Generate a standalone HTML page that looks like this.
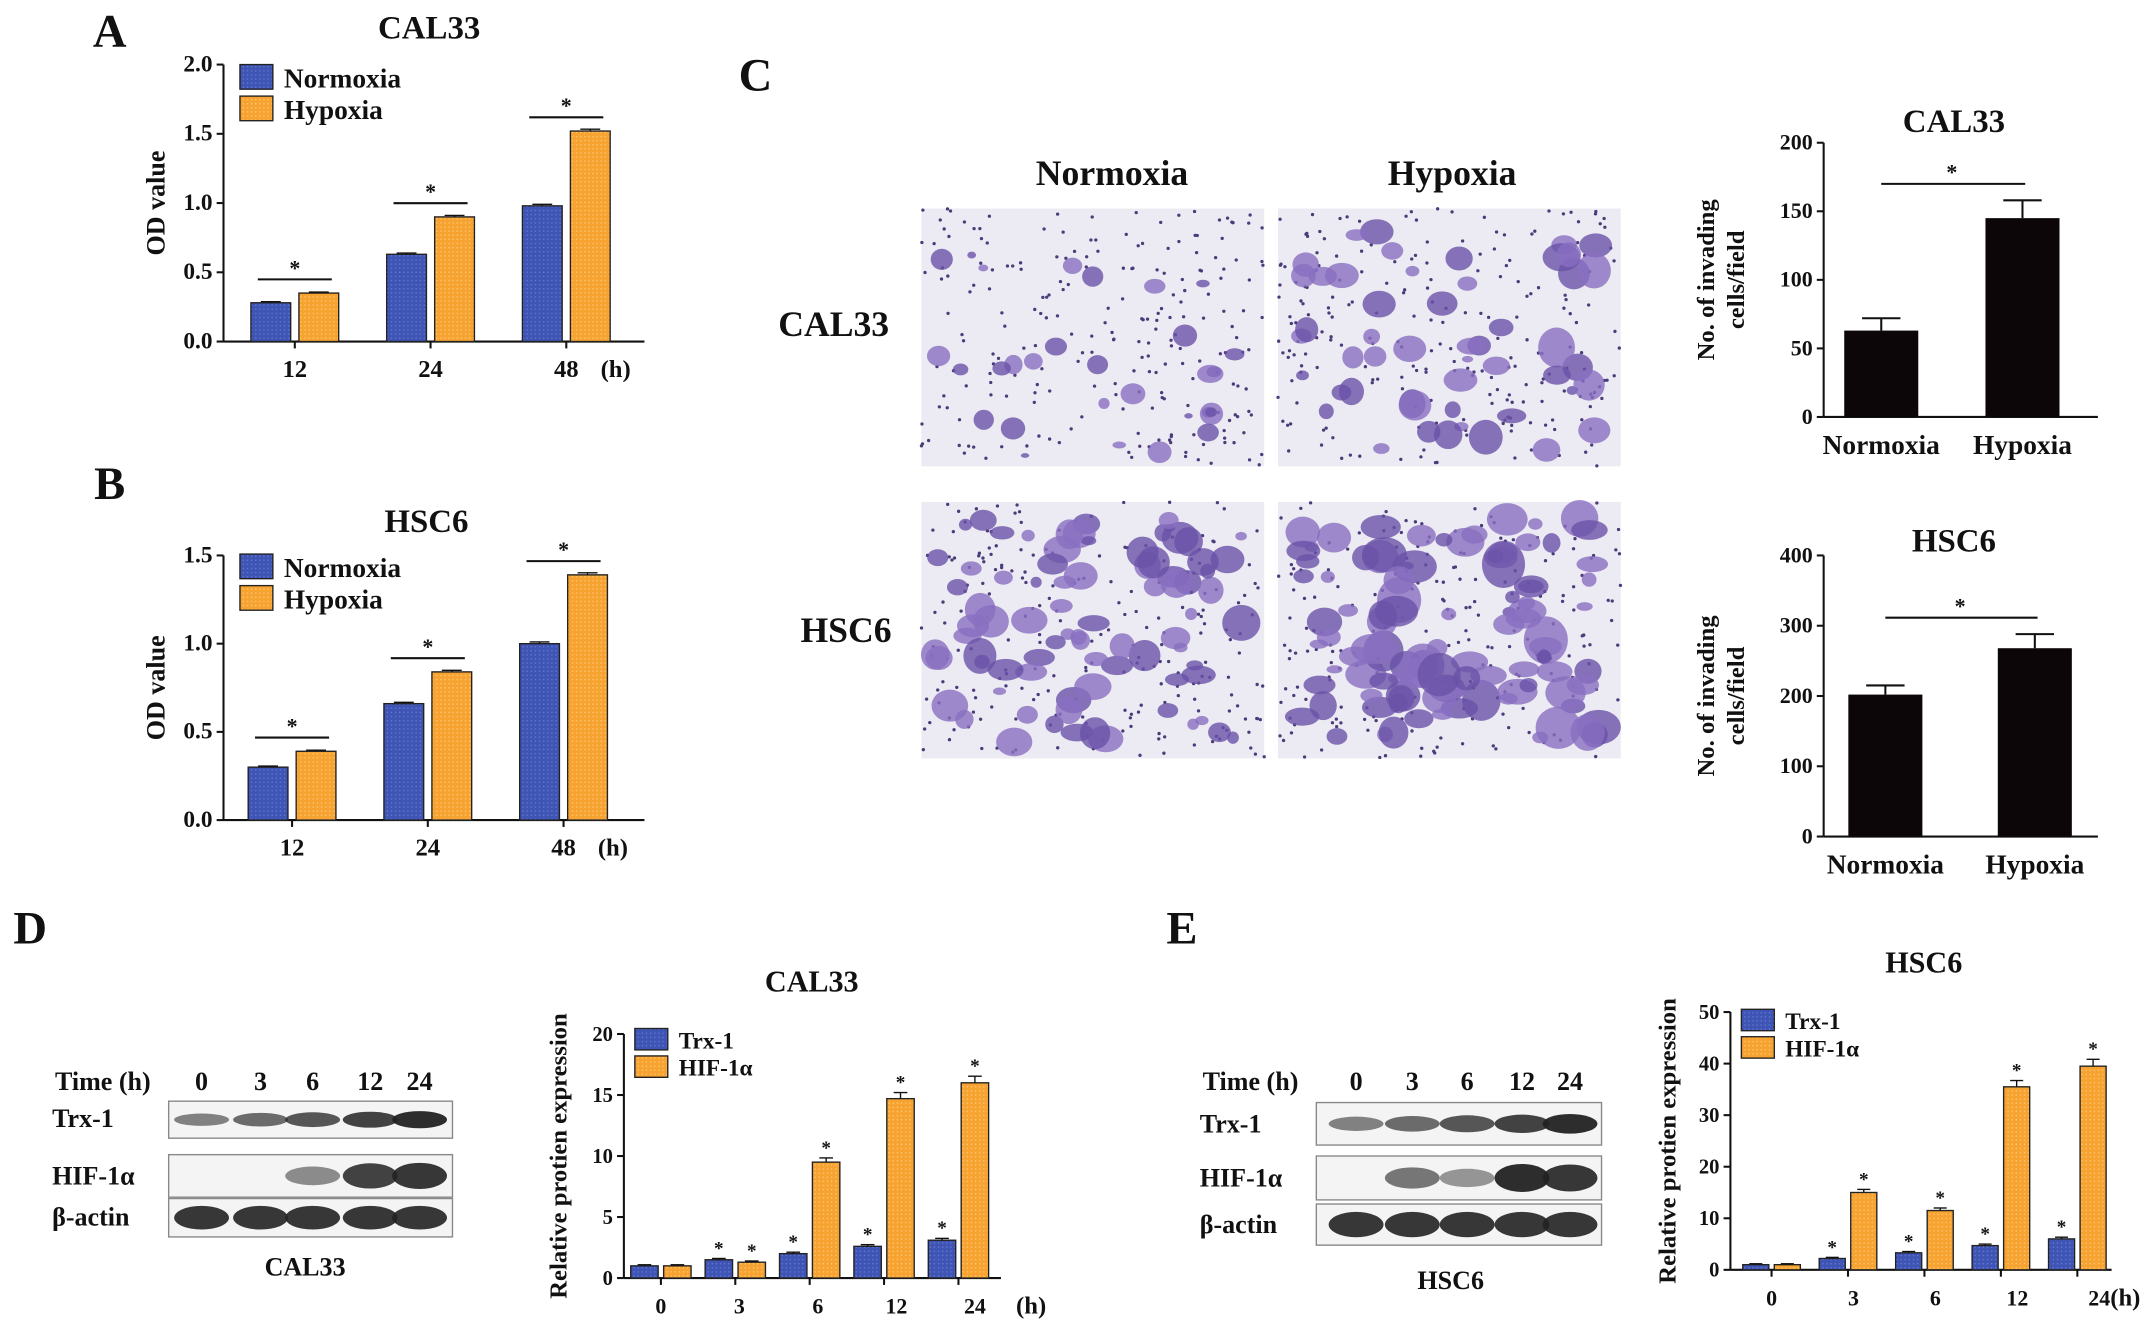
<!DOCTYPE html>
<html><head><meta charset="utf-8"><style>
html,body{margin:0;padding:0;background:#fff;}
svg{display:block;font-family:"Liberation Serif",serif;font-weight:bold;}
</style></head><body>
<svg id="fig" width="2150" height="1344" viewBox="0 0 1568 980" xmlns="http://www.w3.org/2000/svg">
<defs>
<pattern id="pb" width="3" height="3" patternUnits="userSpaceOnUse"><rect width="3" height="3" fill="#3f55b5"/><rect width="1" height="1" fill="#6475cc"/></pattern>
<pattern id="po" width="3" height="3" patternUnits="userSpaceOnUse"><rect width="3" height="3" fill="#f7a331"/><rect width="1" height="1" fill="#ffc46e"/></pattern>
</defs>
<g id="root"></g>
</svg>
<script>
// ---- data ----
const timeCatsAB = ["12","24","48"];
const aNormoxia = [0.28,0.63,0.98];
const aHypoxia = [0.35,0.90,1.52];
const aTicks = [0,0.5,1.0,1.5,2.0];
const bNormoxia = [0.30,0.66,1.00];
const bHypoxia = [0.39,0.84,1.39];
const bTicks = [0,0.5,1.0,1.5];
const invCats = ["Normoxia","Hypoxia"];
const invCal33 = [63,145];
const invCal33Err = [9,13];
const invCal33Ticks = [0,50,100,150,200];
const invHsc6 = [202,268];
const invHsc6Err = [13,20];
const invHsc6Ticks = [0,100,200,300,400];
const timeCatsDE = ["0","3","6","12","24"];
const dTrx = [1,1.5,2,2.6,3.1];
const dHif = [1,1.3,9.5,14.7,16];
const dTicks = [0,5,10,15,20];
const eTrx = [1,2.2,3.3,4.7,6];
const eHif = [1,15,11.5,35.5,39.5];
const eTicks = [0,10,20,30,40,50];

const NS="http://www.w3.org/2000/svg";
const root=document.getElementById('root');
function el(tag,attrs,parent,text){const e=document.createElementNS(NS,tag);for(const k in attrs)e.setAttribute(k,attrs[k]);if(text!==undefined)e.textContent=text;(parent||root).appendChild(e);return e;}
function txt(x,y,s,size,anchor,parent,name){const t=el('text',{x:x,y:y,'font-size':size,'text-anchor':anchor||'middle',fill:'#111'},parent,s);

return t;}

function grouped(o){
 const g=el('g',{});
 
 
 const ticks=o.ticks,max=ticks[ticks.length-1];
 const y=v=>o.y0-(v/max)*(o.y0-o.y1);
 const ls=o.labelShift||0;
 el('line',{x1:o.ax,y1:o.y0,x2:o.ax,y2:o.y1,stroke:'#111','stroke-width':1.5},g);
 el('line',{x1:o.ax,y1:o.y0,x2:o.xEnd,y2:o.y0,stroke:'#111','stroke-width':1.5},g);
 ticks.forEach(t=>{el('line',{x1:o.ax-5,y1:y(t),x2:o.ax,y2:y(t),stroke:'#111','stroke-width':1.5},g);
  txt(o.ax-8,y(t)+5,o.fmt?o.fmt(t):String(t),o.tfs||15,'end',g,'y-tick-label');});
 o.cats.forEach((c,i)=>{
  const cx=o.cx[0]+i*(o.cx[1]-o.cx[0])/(o.cats.length-1);
  el('line',{x1:cx,y1:o.y0,x2:cx,y2:o.y0+5,stroke:'#111','stroke-width':1.5},g);
  txt(cx+i*ls,o.y0+26,c,o.cfs||18,'middle',g,'x-tick-label');
  [[o.s1,'url(#pb)'],[o.s2,'url(#po)']].forEach(([s,f],k)=>{
   const x=k===0?cx-o.bw-o.gap/2:cx+o.gap/2;
   const r=el('rect',{x:x,y:y(s[i]),width:o.bw,height:o.y0-y(s[i]),fill:f,stroke:'#222','stroke-width':1},g);
   
   
   const e=s[i]*o.errf+0.003*max;
   el('line',{x1:x+o.bw/2,y1:y(s[i]+e),x2:x+o.bw/2,y2:y(s[i]),stroke:'#111'},g);
   el('line',{x1:x+o.bw*0.25,y1:y(s[i]+e),x2:x+o.bw*0.75,y2:y(s[i]+e),stroke:'#111'},g);
   if(o.starEach&&i>0) txt(x+o.bw/2,y(s[i]+e)-3,'*',14,'middle',g,'significance-star');
  });
  if(o.sig){const top=Math.max(o.s1[i],o.s2[i]);const ly=y(top)-10;
   el('line',{x1:cx-o.bw+2,y1:ly,x2:cx+o.bw-2,y2:ly,stroke:'#111','stroke-width':1.5},g);
   txt(cx,ly-3,'*',16,'middle',g,'significance-star');}
 });
 if(o.unit) txt(o.unitX,o.y0+26,'(h)',18,'middle',g,'x-unit');
 const L=o.legend;
 [[o.l1,'url(#pb)'],[o.l2,'url(#po)']].forEach(([s,f],k)=>{
  el('rect',{x:L[0],y:L[1]+k*L[2],width:L[3],height:L[2]*0.78,fill:f,stroke:'#222'},g);
  txt(L[0]+L[3]+8,L[1]+k*L[2]+L[2]*0.72,s,L[4],'start',g,'legend-entry');});
 const yt=txt(0,0,o.ylab,o.yfs||19,'middle',g,'y-axis-title');
 yt.setAttribute('transform',`translate(${o.ylx},${(o.y0+o.y1)/2}) rotate(-90)`);
 txt(o.titleX,o.titleY,o.title,o.titfs||24,'middle',g,'chart-title');
}
const f1=t=>t.toFixed(1);
grouped({name:'chart-a',cats:timeCatsAB,s1:aNormoxia,s2:aHypoxia,ticks:aTicks,fmt:f1,ax:163,y0:249,y1:47,xEnd:470,cx:[215,413],bw:29,gap:6,errf:0.005,sig:true,unit:true,unitX:449,legend:[175,47,23,24,20],l1:'Normoxia',l2:'Hypoxia',ylab:'OD value',ylx:120,title:'CAL33',titleX:313,titleY:28,tfs:17});
grouped({name:'chart-b',cats:timeCatsAB,s1:bNormoxia,s2:bHypoxia,ticks:bTicks,fmt:f1,ax:163,y0:598,y1:405,xEnd:470,cx:[213,411],bw:29,gap:6,errf:0.005,sig:true,unit:true,unitX:447,legend:[175,404,23,24,20],l1:'Normoxia',l2:'Hypoxia',ylab:'OD value',ylx:120,title:'HSC6',titleX:311,titleY:388,tfs:17});
grouped({name:'chart-d',cats:timeCatsDE,s1:dTrx,s2:dHif,ticks:dTicks,ax:455,y0:932,y1:754,xEnd:730,cx:[482,699],labelShift:3,bw:20,gap:4,errf:0.03,starEach:true,unit:true,unitX:752,legend:[463,750,20,24,17],l1:'Trx-1',l2:'HIF-1α',ylab:'Relative protien expression',ylx:413,yfs:18,title:'CAL33',titleX:592,titleY:723,titfs:22,cfs:16});
grouped({name:'chart-e',cats:timeCatsDE,s1:eTrx,s2:eHif,ticks:eTicks,ax:1262,y0:926,y1:738,xEnd:1540,cx:[1292,1515],labelShift:4,bw:19,gap:4,errf:0.03,starEach:true,unit:true,unitX:1550,legend:[1270,736,20,24,17],l1:'Trx-1',l2:'HIF-1α',ylab:'Relative protien expression',ylx:1222,yfs:18,title:'HSC6',titleX:1403,titleY:709,titfs:22,cfs:16});

function single(o){
 const g=el('g',{});
 
 
 const max=o.ticks[o.ticks.length-1];const y=v=>o.y0-(v/max)*(o.y0-o.y1);
 el('line',{x1:o.ax,y1:o.y0,x2:o.ax,y2:o.y1,stroke:'#111','stroke-width':1.5},g);
 el('line',{x1:o.ax,y1:o.y0,x2:1530,y2:o.y0,stroke:'#111','stroke-width':1.5},g);
 o.ticks.forEach(t=>{el('line',{x1:o.ax-5,y1:y(t),x2:o.ax,y2:y(t),stroke:'#111','stroke-width':1.5},g);
  txt(o.ax-8,y(t)+5,String(t),16,'end',g,'y-tick-label');});
 o.cats.forEach((c,i)=>{const cx=o.cx[i];
  const r=el('rect',{x:cx-27,y:y(o.vals[i]),width:54,height:o.y0-y(o.vals[i]),fill:'#0d0608'},g);
  
  
  const e=o.err[i];
  el('line',{x1:cx,y1:y(o.vals[i]+e),x2:cx,y2:y(o.vals[i]),stroke:'#111','stroke-width':1.5},g);
  el('line',{x1:cx-14,y1:y(o.vals[i]+e),x2:cx+14,y2:y(o.vals[i]+e),stroke:'#111','stroke-width':1.5},g);
  txt(cx,o.y0+27,c,20,'middle',g,'x-tick-label');});
 const ly=y(Math.max(o.vals[0]+o.err[0],o.vals[1]+o.err[1]))-12;
 el('line',{x1:o.cx[0],y1:ly,x2:o.cx[1]+2,y2:ly,stroke:'#111','stroke-width':1.5},g);
 txt((o.cx[0]+o.cx[1])/2,ly-3,'*',16,'middle',g,'significance-star');
 const t1=txt(0,0,'No. of invading',18,'middle',g,'y-axis-title');
 t1.setAttribute('transform',`translate(1250,${(o.y0+o.y1)/2}) rotate(-90)`);
 const t2=txt(0,0,'cells/field',18,'middle',g,'y-axis-title');
 t2.setAttribute('transform',`translate(1272,${(o.y0+o.y1)/2}) rotate(-90)`);
 txt(1425,o.titleY,o.title,24,'middle',g,'chart-title');
}
single({name:'invasion-cal33-chart',cats:invCats,vals:invCal33,err:invCal33Err,ticks:invCal33Ticks,ax:1330,y0:304,y1:104,cx:[1372,1475],title:'CAL33',titleY:96});
single({name:'invasion-hsc6-chart',cats:invCats,vals:invHsc6,err:invHsc6Err,ticks:invHsc6Ticks,ax:1330,y0:610,y1:405,cx:[1375,1484],title:'HSC6',titleY:402});

[['A',80,34],['B',80,364],['C',551,66],['D',22,688],['E',862,688]].forEach(([s,x,y])=>txt(x,y,s,34,'middle',root,'panel-label-'+s.toLowerCase()));

let seed=7;const rnd=()=>(seed=(seed*16807)%2147483647)/2147483647;
function micro(x,y,w,h,n,size,name){
 const g=el('g',{});
 
 
 el('rect',{x:x,y:y,width:w,height:h,fill:'#eceaf2'},g);
 for(let i=0;i<220;i++) el('circle',{cx:x+rnd()*w,cy:y+rnd()*h,r:1.2,fill:'#4a3b7a'},g);
 for(let i=0;i<n;i++){const cx=x+size+rnd()*(w-2*size),cy=y+size+rnd()*(h-2*size),r=size*(0.4+rnd());
  el('ellipse',{cx:cx,cy:cy,rx:r,ry:r*(0.5+rnd()*0.6),fill:rnd()>0.5?'#8a6fc0':'#6a52a8',opacity:0.8},g);}
}
micro(672,152,250,188,30,7,'micrograph-cal33-normoxia');
micro(932,152,250,188,50,10,'micrograph-cal33-hypoxia');
micro(672,366,250,187,80,10,'micrograph-hsc6-normoxia');
micro(932,366,250,187,100,12,'micrograph-hsc6-hypoxia');
txt(811,135,'Normoxia',26,'middle',root,'column-label-normoxia');
txt(1059,135,'Hypoxia',26,'middle',root,'column-label-hypoxia');
txt(608,245,'CAL33',26,'middle',root,'row-label-cal33');
txt(617,468,'HSC6',26,'middle',root,'row-label-hsc6');

function blot(x0,lanes,rows,name,label,labelY,hifStrength,timeY){
 const g=el('g',{});
 
 
 txt(x0-48,timeY,'Time (h)',19,'middle',g,'time-label');
 ['0','3','6','12','24'].forEach((c,i)=>txt(lanes[i],timeY,c,19,'middle',g,'lane-label'));
 const names=['Trx-1','HIF-1α','β-actin'];
 rows.forEach((r,k)=>{
  el('rect',{x:x0,y:r[0],width:r[2],height:r[1],fill:'#f4f4f4',stroke:'#888'},g);
  txt(x0-85,r[0]+r[1]*0.7,names[k],19,'start',g,'blot-row-label');
  lanes.forEach((lx,i)=>{let s=k===0?0.55+0.1*i:k===2?0.9:hifStrength[i];
   const th=k===0?0.16:0.22;
   if(s>0.05) el('ellipse',{cx:lx,cy:r[0]+r[1]/2,rx:20,ry:r[1]*th*(0.5+s),fill:'#222',opacity:Math.min(1,s)},g);});
 });
 txt(x0+(lanes[4]-lanes[0])/2+20,labelY,label,19,'middle',g,'blot-caption');
}
blot(123,[147,190,228,270,306],[[803,27,207],[842,31,207],[874,28,207]],'western-blot-cal33','CAL33',930,[0,0,0.5,0.85,0.9],795);
blot(960,[989,1030,1070,1110,1145],[[804,31,208],[843,32,208],[878,30,208]],'western-blot-hsc6','HSC6',940,[0,0.6,0.45,0.95,0.9],795);
</script>
</body></html>
